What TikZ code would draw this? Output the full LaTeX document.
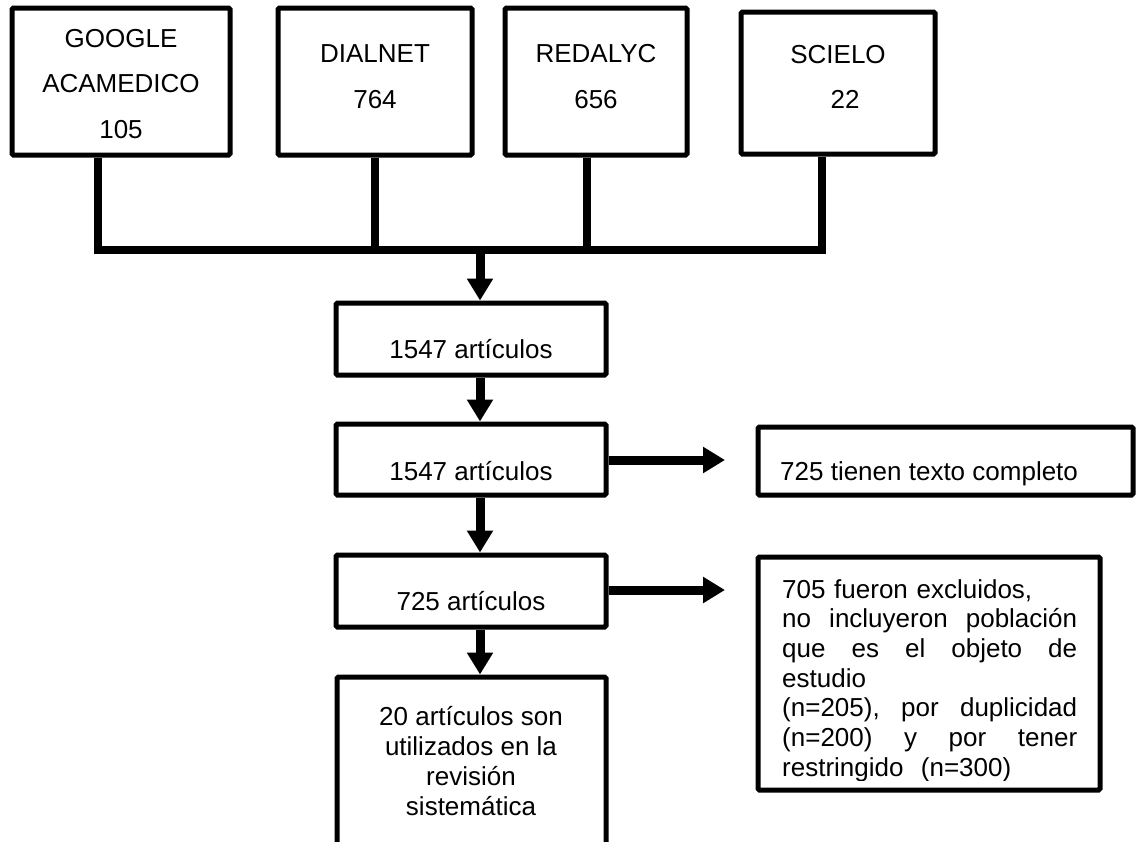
\documentclass[tikz,border=0pt]{standalone}
\usepackage{fontspec}
\setmainfont{Liberation Sans}
\usetikzlibrary{arrows.meta}
\begin{document}
\begin{tikzpicture}[x=1pt,y=-1pt,
  box/.style={draw, line width=5pt, rounded corners=1.5pt, inner sep=0pt, fill=white},
  txt/.style={inner sep=0pt, font=\fontsize{26}{30}\selectfont},
  link/.style={line width=8pt, line join=miter},
  arr/.style={line width=9pt, -{Triangle[length=22pt,width=25pt]}}]
\useasboundingbox (0,0) rectangle (1139,841);
\clip (0,0) rectangle (1139,841);
% connector junction points
\coordinate (j1) at (98,250);
\coordinate (j2) at (375,250);
\coordinate (j3) at (587,250);
\coordinate (j4) at (822,250);
\coordinate (jm) at (480,250);
\coordinate (h1) at (725,460);
\coordinate (h2) at (725,590);
% boxes
\node[box, minimum width=218pt, minimum height=147pt] (g) at (121,81.5) {};
\node[box, minimum width=194pt, minimum height=147pt] (d) at (375,81.5) {};
\node[box, minimum width=182pt, minimum height=147pt] (r) at (596,81.5) {};
\node[box, minimum width=194pt, minimum height=142pt] (s) at (838,83) {};
\node[box, minimum width=270pt, minimum height=72pt] (b1) at (471,339) {};
\node[box, minimum width=270pt, minimum height=71pt] (b2) at (471,459.5) {};
\node[box, minimum width=270pt, minimum height=72pt] (b3) at (471,591) {};
\node[box, minimum width=269pt, minimum height=168pt] (b4) at (471.5,761) {};
\node[box, minimum width=375pt, minimum height=68pt] (t1) at (945.5,461) {};
\node[box, minimum width=342pt, minimum height=233pt] (t2) at (929,673.5) {};
% texts (base anchor = baseline of the last line)
\node[txt, align=center, anchor=base, font=\fontsize{26}{45.5}\selectfont] (gt) at (121,138) {GOOGLE\\ACAMEDICO\\105};
\node[txt, align=center, anchor=base, font=\fontsize{26}{46}\selectfont] (dt) at (375,108) {DIALNET\\764};
\node[txt, align=center, anchor=base, font=\fontsize{26}{46}\selectfont] (rt) at (596,108) {REDALYC\\656};
\node[txt, align=center, anchor=base, font=\fontsize{26}{45}\selectfont] (st) at (838,108) {SCIELO\\\hspace*{14pt}22};
\node[txt, anchor=base] (b1t) at (471,358) {1547 artículos};
\node[txt, anchor=base] (b2t) at (471,480) {1547 artículos};
\node[txt, anchor=base] (b3t) at (471,610) {725 artículos};
\node[txt, align=center, anchor=base, font=\fontsize{26}{30}\selectfont] (b4t) at (471,815) {20 artículos son\\utilizados en la\\revisión\\sistemática};
\node[txt, anchor=base west] (t1t) at (780,480) {725 tienen texto completo};
\begin{scope}
\clip (760,560) rectangle (1098,780);
\node[txt, text width=295pt, align=left, anchor=base west, font=\fontsize{26}{29.7}\selectfont] (t2t) at (782,598)
  {705 fueron excluidos,\\
   \makebox[295pt][l]{no\hfill incluyeron\hfill población}\\
   \makebox[295pt][l]{que\hfill es\hfill el\hfill objeto\hfill de}\\
   estudio\\
   \makebox[295pt][l]{(n=205),\hfill por\hfill duplicidad}\\
   \makebox[295pt][l]{(n=200)\hfill y\hfill por\hfill tener}\\
   restringido~ (n=300)};
\end{scope}
% bus
\draw[link] (j1 |- g.south) -- (j1) -- (j4) -- (j4 |- s.south);
\draw[link] (j2 |- d.south) -- (j2);
\draw[link] (j3 |- r.south) -- (j3);
% arrows
\draw[arr] (jm) -- (jm |- b1.north);
\draw[arr] (b1.south -| jm) -- (b2.north -| jm);
\draw[arr] (b2.south -| jm) -- (b3.north -| jm);
\draw[arr] (b3.south -| jm) -- (b4.north -| jm);
\draw[arr] (b2.east |- h1) -- (h1);
\draw[arr] (b3.east |- h2) -- (h2);
\end{tikzpicture}
\end{document}
